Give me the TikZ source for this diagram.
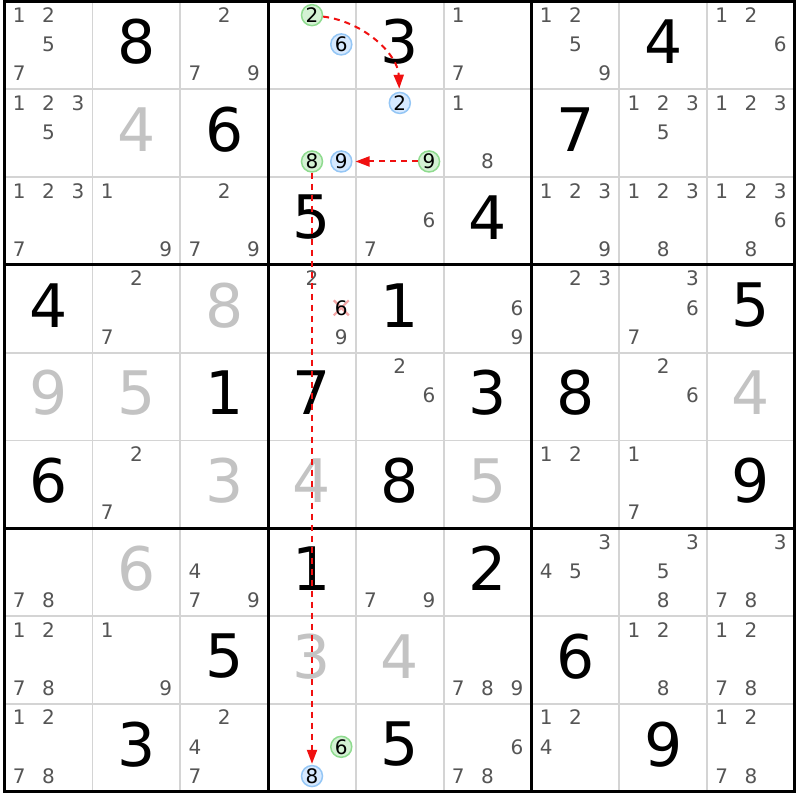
\documentclass[tikz,border=0pt]{standalone}
\usepackage{fontspec}
\setmainfont{DejaVu Sans}
\usetikzlibrary{arrows.meta}
\definecolor{candgray}{HTML}{555555}
\definecolor{solvgray}{HTML}{C3C3C3}
\definecolor{gridgray}{HTML}{D4D4D4}
\definecolor{grnfill}{HTML}{D4F2D4}
\definecolor{grnline}{HTML}{8FDB8F}
\definecolor{blufill}{HTML}{D6E9FF}
\definecolor{bluline}{HTML}{94C6F5}
\definecolor{linkred}{HTML}{F01010}
\definecolor{crosspink}{HTML}{F4A6A6}
\def\xo{4.7}\def\yo{1.5}\def\cs{87.8}
\newcommand\cpos[3]{%
 \pgfmathsetmacro\px{\xo+(#2-1)*\cs+\cs/6+mod(#3-1,3)*\cs/3}%
 \pgfmathsetmacro\py{\yo+(#1-1)*\cs+\cs/6+floor((#3-1)/3)*\cs/3-1}}
\newcommand\cands[3]{\foreach \d in {#3}{\cpos{#1}{#2}{\d}\node[cand] (k#1#2\d) at (\px,\py) {\d};}}
\newcommand\bigd[4]{\pgfmathsetmacro\px{\xo+(#2-0.5)*\cs}\pgfmathsetmacro\py{\yo+(#1-0.5)*\cs-3.5}\node[#4] (d#1#2) at (\px,\py) {#3};}
\newcommand\circd[5]{\cpos{#2}{#3}{#4}\node[#5] (#1) at (\px,\py) {#4};}
\tikzset{
 cand/.style={font=\fontsize{20}{22}\selectfont, text=candgray, inner sep=0pt},
 given/.style={font=\fontsize{60}{62}\selectfont, text=black, inner sep=0pt},
 solved/.style={given, text=solvgray},
 gcirc/.style={circle, draw=grnline, fill=grnfill, line width=1.5pt, minimum size=21pt, inner sep=0pt, font=\fontsize{20}{22}\selectfont, text=black},
 bcirc/.style={gcirc, draw=bluline, fill=blufill},
 link/.style={draw=linkred, line width=2pt, dash pattern=on 6pt off 5pt, -{Triangle[length=14pt,width=10pt]}},
 gridthin/.style={draw=gridgray, line width=1.7pt},
 gridthick/.style={draw=black, line width=3pt},
 xcross/.style={draw=crosspink, line width=2.2pt}
}
\begin{document}
\begin{tikzpicture}[x=1pt,y=-1pt]
\useasboundingbox (0,0) rectangle (800,800);
\fill[white] (0,0) rectangle (800,800);
% grid
\foreach \i in {1,2,4,5,7,8}{
 \draw[gridthin] (\xo+\i*\cs,\yo) -- (\xo+\i*\cs,\yo+9*\cs);
 \draw[gridthin] (\xo,\yo+\i*\cs) -- (\xo+9*\cs,\yo+\i*\cs);
}
\foreach \i in {3,6}{
 \draw[gridthick] (\xo+\i*\cs,\yo) -- (\xo+\i*\cs,\yo+9*\cs);
 \draw[gridthick] (\xo,\yo+\i*\cs) -- (\xo+9*\cs,\yo+\i*\cs);
}
\draw[gridthick, line join=miter] (\xo,\yo) rectangle (\xo+9*\cs,\yo+9*\cs);
% row 1
\cands{1}{1}{1,2,5,7} \bigd{1}{2}{8}{given} \cands{1}{3}{2,7,9}
\circd{g2}{1}{4}{2}{gcirc} \circd{b6}{1}{4}{6}{bcirc}
\bigd{1}{5}{3}{given} \cands{1}{6}{1,7} \cands{1}{7}{1,2,5,9} \bigd{1}{8}{4}{given} \cands{1}{9}{1,2,6}
% row 2
\cands{2}{1}{1,2,3,5} \bigd{2}{2}{4}{solved} \bigd{2}{3}{6}{given}
\circd{g8}{2}{4}{8}{gcirc} \circd{b9}{2}{4}{9}{bcirc}
\circd{b2}{2}{5}{2}{bcirc} \circd{g9}{2}{5}{9}{gcirc}
\cands{2}{6}{1,8} \bigd{2}{7}{7}{given} \cands{2}{8}{1,2,3,5} \cands{2}{9}{1,2,3}
% row 3
\cands{3}{1}{1,2,3,7} \cands{3}{2}{1,9} \cands{3}{3}{2,7,9} \bigd{3}{4}{5}{given} \cands{3}{5}{6,7} \bigd{3}{6}{4}{given} \cands{3}{7}{1,2,3,9} \cands{3}{8}{1,2,3,8} \cands{3}{9}{1,2,3,6,8}
% row 4
\bigd{4}{1}{4}{given} \cands{4}{2}{2,7} \bigd{4}{3}{8}{solved}
\cands{4}{4}{2,9}
\cpos{4}{4}{6}
\draw[xcross] (\px-7.5,\py-7.5) -- (\px+7.5,\py+7.5) (\px-7.5,\py+7.5) -- (\px+7.5,\py-7.5);
\node[cand, text=black] (k446) at (\px,\py) {6};
\bigd{4}{5}{1}{given} \cands{4}{6}{6,9} \cands{4}{7}{2,3} \cands{4}{8}{3,6,7} \bigd{4}{9}{5}{given}
% row 5
\bigd{5}{1}{9}{solved} \bigd{5}{2}{5}{solved} \bigd{5}{3}{1}{given} \bigd{5}{4}{7}{given} \cands{5}{5}{2,6} \bigd{5}{6}{3}{given} \bigd{5}{7}{8}{given} \cands{5}{8}{2,6} \bigd{5}{9}{4}{solved}
% row 6
\bigd{6}{1}{6}{given} \cands{6}{2}{2,7} \bigd{6}{3}{3}{solved} \bigd{6}{4}{4}{solved} \bigd{6}{5}{8}{given} \bigd{6}{6}{5}{solved} \cands{6}{7}{1,2} \cands{6}{8}{1,7} \bigd{6}{9}{9}{given}
% row 7
\cands{7}{1}{7,8} \bigd{7}{2}{6}{solved} \cands{7}{3}{4,7,9} \bigd{7}{4}{1}{given} \cands{7}{5}{7,9} \bigd{7}{6}{2}{given} \cands{7}{7}{3,4,5} \cands{7}{8}{3,5,8} \cands{7}{9}{3,7,8}
% row 8
\cands{8}{1}{1,2,7,8} \cands{8}{2}{1,9} \bigd{8}{3}{5}{given} \bigd{8}{4}{3}{solved} \bigd{8}{5}{4}{solved} \cands{8}{6}{7,8,9} \bigd{8}{7}{6}{given} \cands{8}{8}{1,2,8} \cands{8}{9}{1,2,7,8}
% row 9
\cands{9}{1}{1,2,7,8} \bigd{9}{2}{3}{given} \cands{9}{3}{2,4,7}
\circd{g6}{9}{4}{6}{gcirc} \circd{b8}{9}{4}{8}{bcirc}
\bigd{9}{5}{5}{given} \cands{9}{6}{6,7,8} \cands{9}{7}{1,2,4} \bigd{9}{8}{9}{given} \cands{9}{9}{1,2,7,8}
% links
\draw[link, shorten >=3pt] (g2) .. controls (365,22) and (398,55) .. (b2);
\draw[link, shorten >=3pt] (g9) -- (b9);
\draw[link, shorten >=1pt] (g8) -- (b8);
\end{tikzpicture}
\end{document}
